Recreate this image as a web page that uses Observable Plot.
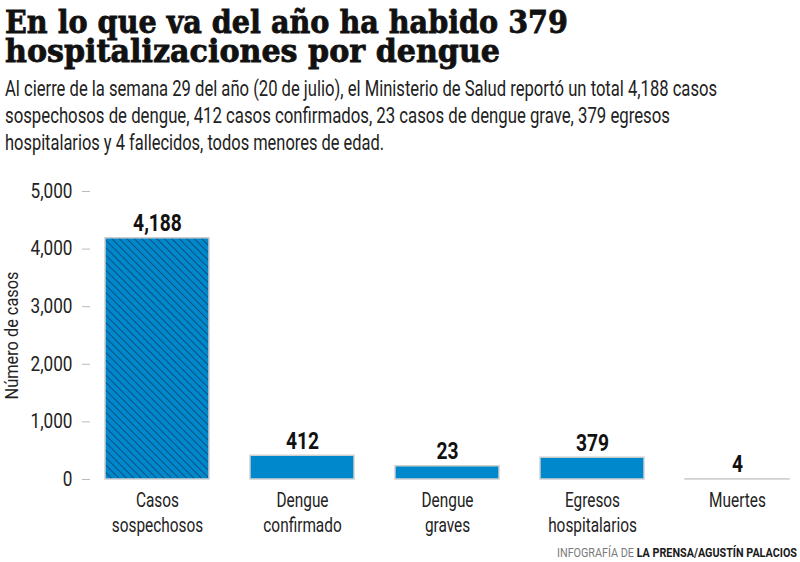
<!DOCTYPE html>
<html>
<head>
<meta charset="utf-8">
<script src="https://cdn.jsdelivr.net/npm/d3@7"></script>
<script src="https://cdn.jsdelivr.net/npm/@observablehq/plot@0.6"></script>
<style>
  html, body { margin: 0; padding: 0; background: #fff; }
  body { width: 800px; height: 562px; overflow: hidden; position: relative; }
  .line { position: absolute; left: 5px; white-space: nowrap; transform-origin: 0 50%; }
  .title { font-family: "DejaVu Serif", serif; font-weight: 900; font-size: 32px; line-height: 28px;
    color: #111; -webkit-text-stroke: 0.8px #111; }
  .sub { font-family: Roboto, sans-serif; font-size: 22px; line-height: 26px; color: #222; }
  #chart { position: absolute; left: 0; top: 165px; }
  .credit { font-family: Roboto, sans-serif; font-size: 13px; line-height: 14px; color: #7a7a7a; }
  .credit b { color: #1a1a1a; }
</style>
</head>
<body>
<div class="line title" data-w="563" style="top:8px">En lo que va del año ha habido 379</div>
<div class="line title" data-w="495" style="top:37px">hospitalizaciones por dengue</div>
<div class="line sub" data-w="712" style="top:76px">Al cierre de la semana 29 del año (20 de julio), el Ministerio de Salud reportó un total 4,188 casos</div>
<div class="line sub" data-w="665" style="top:103px">sospechosos de dengue, 412 casos confirmados, 23 casos de dengue grave, 379 egresos</div>
<div class="line sub" data-w="379" style="top:130px">hospitalarios y 4 fallecidos, todos menores de edad.</div>
<div id="chart"></div>
<div class="line credit" data-w="240" style="left:557px; top:546px">INFOGRAFÍA DE <b>LA PRENSA/AGUSTÍN PALACIOS</b></div>
<script>
// ---- data ----
const categories = ["Casos sospechosos", "Dengue confirmado", "Dengue graves", "Egresos hospitalarios", "Muertes"];
const categoryLabels = ["Casos\nsospechosos", "Dengue\nconfirmado", "Dengue\ngraves", "Egresos\nhospitalarios", "Muertes"];
const labelValues = [4188, 412, 23, 379, 4];          // printed values
const barValues = [4188, 412, 230, 379, 4];           // bar lengths as drawn in the reference
const yTicks = [0, 1000, 2000, 3000, 4000, 5000];
const yTitle = "Número de casos";
const hatched = ["Casos sospechosos"];

const data = categories.map((c, i) => ({cat: c, label: categoryLabels[i], value: labelValues[i], bar: barValues[i]}));
const fmt = d3.format(",");
const font = "Roboto, sans-serif";

// fit HTML lines to the reference widths
document.querySelectorAll(".line[data-w]").forEach(el => {
  const w = el.getBoundingClientRect().width;
  el.style.transform = `scaleX(${(+el.dataset.w / w).toFixed(4)})`;
});

const plot = Plot.plot({
  width: 800,
  height: 375,
  marginTop: 26,
  marginBottom: 61,
  marginLeft: 104,
  marginRight: 10,
  style: {fontFamily: font, background: "#fff", overflow: "visible"},
  x: {domain: categories, paddingInner: 0.285, paddingOuter: 0, label: null},
  y: {domain: [0, 5000], label: null},
  marks: [
    Plot.barY(data.filter(d => !hatched.includes(d.cat)), {x: "cat", y: "bar", fill: "#0088cc", stroke: "#d0d0d0", strokeWidth: 1.5}),
    Plot.barY(data.filter(d => hatched.includes(d.cat)), {x: "cat", y: "bar", fill: "url(#hatch)", stroke: "#d0d0d0", strokeWidth: 1.5}),
    Plot.text(data, {x: "cat", y: "bar", text: d => fmt(d.value), dy: -7, lineAnchor: "bottom",
      fontSize: 24, fontWeight: "bold", fill: "#111", fontFamily: font}),
    Plot.axisY({ticks: yTicks, tickFormat: fmt, tickSize: 8, tickPadding: 10, dx: -14, stroke: "#bbb",
      fontSize: 19.5, fill: "#222", label: null}),
    Plot.text([yTitle], {frameAnchor: "left", y: () => 2500, text: d => d, rotate: -90, dx: -92,
      textAnchor: "middle", fontSize: 18, fill: "#222"}),
    Plot.axisX({tickSize: 0, tickPadding: 10, tickFormat: d => categoryLabels[categories.indexOf(d)],
      fontSize: 20, fill: "#222", lineHeight: 1.25, label: null})
  ]
});

// hatch pattern
const defs = document.createElementNS("http://www.w3.org/2000/svg", "defs");
defs.innerHTML = `<pattern id="hatch" patternUnits="userSpaceOnUse" width="5.3" height="5.3" patternTransform="rotate(-45)">
  <rect width="5.3" height="5.3" fill="#0088cc"></rect>
  <line x1="0" y1="0" x2="0" y2="5.3" stroke="#17365a" stroke-width="1.4"></line>
</pattern>`;
plot.insertBefore(defs, plot.firstChild);
document.getElementById("chart").appendChild(plot);

// condense SVG text horizontally around its anchor
function squeezeEls(els, k) {
  els.forEach(t => {
    const tr = t.getAttribute("transform");
    if (tr) t.setAttribute("transform", tr + ` scale(${k},1)`);
    else {
      const x = +t.getAttribute("x") || 0, y = +t.getAttribute("y") || 0;
      t.removeAttribute("x"); t.removeAttribute("y");
      t.setAttribute("transform", `translate(${x},${y}) scale(${k},1)`);
    }
  });
}
const textGroups = plot.querySelectorAll('g[aria-label="text"]');
squeezeEls(plot.querySelectorAll('g[aria-label="y-axis tick label"] text'), 0.88);
squeezeEls(plot.querySelectorAll('g[aria-label="x-axis tick label"] text'), 0.77);
squeezeEls(textGroups[0].querySelectorAll("text"), 0.8);
// vertical axis title: condensed to the reference length
textGroups[1].querySelectorAll("text").forEach(t => {
  const len = t.getComputedTextLength();
  squeezeEls([t], (128 / len).toFixed(4));
});
</script>
</body>
</html>
